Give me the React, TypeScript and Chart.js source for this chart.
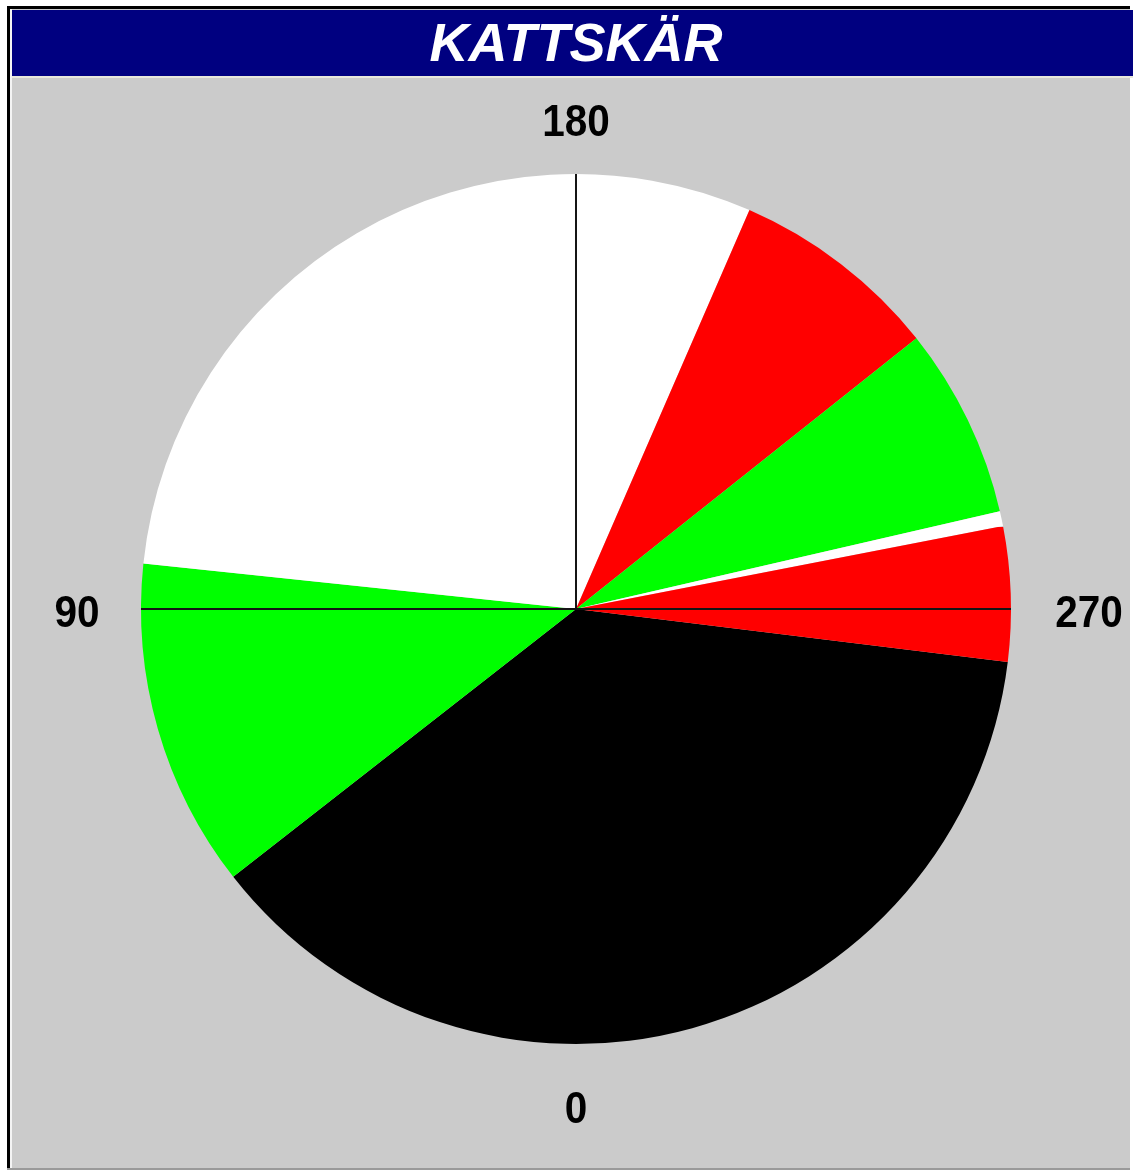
import React, { useEffect, useRef } from "react";
import { Chart, registerables } from "chart.js";

Chart.register(...registerables);

// Light sectors of KATTSKÄR, bearings in degrees (0 at bottom, clockwise: 90 left, 180 top, 270 right)
const sectorNames = ["Obscured", "Green", "White", "Red", "Green", "White", "Red"];
const sectorSpans = [135, 44, 107.5, 28, 25.5, 2, 18];
const sectorColors = ["#000000", "#00ff00", "#ffffff", "#ff0000", "#00ff00", "#ffffff", "#ff0000"];
const firstSectorStart = 277; // bearing where the first sector begins
const bearingLabels = ["0", "90", "180", "270"];
const titleText = "KATTSKÄR";

const W = 1133;
const H = 1171;
const CX = 576;
const CY = 609;
const R = 435;

const axisLines = {
  id: "axisLines",
  afterDatasetsDraw(chart: any) {
    const arc = chart.getDatasetMeta(0).data[0] as any;
    if (!arc) return;
    const { x, y, outerRadius } = arc;
    const ctx = chart.ctx;
    ctx.save();
    ctx.strokeStyle = "#151515";
    ctx.lineWidth = 2;
    ctx.beginPath();
    ctx.moveTo(x, y);
    ctx.lineTo(x, y - outerRadius);
    ctx.moveTo(x - outerRadius, y);
    ctx.lineTo(x + outerRadius, y);
    ctx.stroke();
    ctx.restore();
  },
};

export default function App() {
  const ref = useRef<HTMLCanvasElement | null>(null);

  useEffect(() => {
    if (!ref.current) return;
    const chart = new Chart(ref.current, {
      type: "pie",
      data: {
        labels: sectorNames,
        datasets: [
          {
            data: sectorSpans,
            backgroundColor: sectorColors,
            borderWidth: 0,
          },
        ],
      },
      options: {
        animation: false,
        responsive: false,
        rotation: 180 + firstSectorStart,
        layout: {
          padding: {
            left: CX - R,
            right: W - (CX + R),
            top: CY - R,
            bottom: H - (CY + R),
          },
        },
        plugins: {
          legend: { display: false },
          tooltip: { enabled: false },
          title: { display: false },
        },
      },
      plugins: [axisLines],
    });
    return () => chart.destroy();
  }, []);

  const labelStyle: React.CSSProperties = {
    position: "absolute",
    fontFamily: "'Liberation Sans', Arial, sans-serif",
    fontWeight: "bold",
    fontSize: 45,
    color: "#000",
    lineHeight: "45px",
    transform: "translate(-50%, -50%) scaleX(0.9)",
    whiteSpace: "nowrap",
  };

  const labelPos = [
    { x: 576, y: 1107 },
    { x: 77, y: 611 },
    { x: 576, y: 120 },
    { x: 1089, y: 611 },
  ];

  return (
    <div style={{ position: "absolute", left: 0, top: 0, width: W, height: H, background: "#ffffff", overflow: "hidden" }}>
      {/* frame */}
      <div
        style={{
          position: "absolute",
          left: 7,
          top: 6,
          width: W - 7 - 3,
          height: 1168 - 6,
          borderLeft: "3px solid #000",
          borderTop: "3px solid #000",
          background: "#cbcbcb",
          boxSizing: "border-box",
          boxShadow: "inset 2px 0 0 #f4f4f4, 0 2px 0 #9a9a9a",
        }}
      />
      {/* title bar */}
      <div
        style={{
          position: "absolute",
          left: 12,
          top: 10,
          width: W - 12,
          height: 66,
          background: "#000080",
          borderBottom: "2px solid #e8e8dc",
          boxSizing: "content-box",
        }}
      />
      <div
        style={{
          position: "absolute",
          left: 576,
          top: 42,
          transform: "translate(-50%, -50%)",
          fontFamily: "'Liberation Sans', Arial, sans-serif",
          fontStyle: "italic",
          fontWeight: "bold",
          fontSize: 54,
          lineHeight: "54px",
          color: "#ffffff",
          whiteSpace: "nowrap",
        }}
      >
        {titleText}
      </div>
      <canvas ref={ref} width={W} height={H} style={{ position: "absolute", left: 0, top: 0, width: W, height: H }} />
      {bearingLabels.map((t, i) => (
        <div key={t} style={{ ...labelStyle, left: labelPos[i].x, top: labelPos[i].y }}>
          {t}
        </div>
      ))}
    </div>
  );
}
